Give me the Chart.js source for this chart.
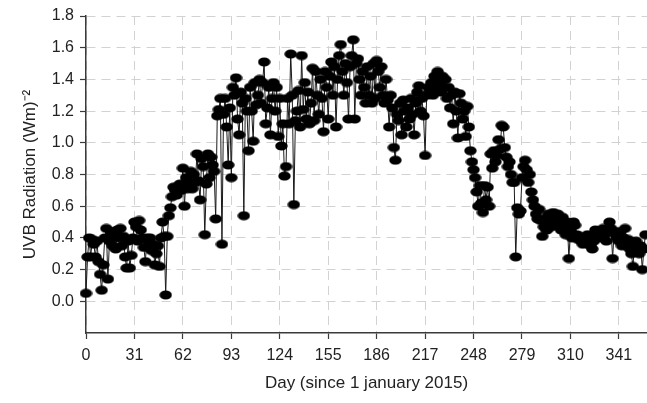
<!DOCTYPE html>
<html>
<head>
<meta charset="utf-8">
<script src="https://cdn.jsdelivr.net/npm/chart.js@4/dist/chart.umd.min.js"></script>
<style>
  html, body { margin: 0; padding: 0; background: #fff; }
  #wrap { width: 647px; height: 403px; }
</style>
</head>
<body>
<div id="wrap"><canvas id="uvbChart" width="647" height="403"></canvas></div>
<script>
"use strict";
// daily UVB values, day 0 .. 358
const uvb = [
    0.05, 0.28, 0.40, 0.28, 0.39, 0.36, 0.28, 0.38, 0.25, 0.17,
    0.07, 0.23, 0.40, 0.46, 0.14, 0.38, 0.44, 0.35, 0.42, 0.33,
    0.45, 0.40, 0.46, 0.35, 0.41, 0.28, 0.21, 0.38, 0.21, 0.29,
    0.40, 0.50, 0.47, 0.38, 0.51, 0.45, 0.40, 0.34, 0.25, 0.40,
    0.38, 0.40, 0.32, 0.36, 0.23, 0.30, 0.35, 0.22, 0.40, 0.50,
    0.41, 0.04, 0.41, 0.54, 0.59, 0.66, 0.72, 0.70, 0.67, 0.72,
    0.74, 0.70, 0.84, 0.60, 0.78, 0.71, 0.75, 0.82, 0.71, 0.80,
    0.75, 0.93, 0.76, 0.64, 0.90, 0.85, 0.42, 0.74, 0.93, 0.78,
    0.91, 0.86, 0.82, 0.52, 1.17, 1.21, 1.28, 0.36, 1.18, 1.28,
    1.10, 0.86, 1.22, 0.78, 1.35, 1.30, 1.41, 1.15, 1.05, 1.32,
    1.25, 0.54, 1.28, 1.20, 0.95, 1.35, 1.20, 1.01, 1.38, 1.24,
    1.30, 1.40, 1.25, 1.38, 1.51, 1.12, 1.22, 1.35, 1.05, 1.28,
    1.38, 1.20, 1.35, 1.04, 1.28, 0.98, 1.12, 0.79, 0.85, 1.28,
    1.12, 1.56, 1.30, 0.61, 1.14, 1.20, 1.33, 1.10, 1.55, 1.21,
    1.38, 1.15, 1.32, 1.12, 1.25, 1.47, 1.14, 1.45, 1.30, 1.18,
    1.40, 1.28, 1.07, 1.45, 1.35, 1.15, 1.42, 1.51, 1.30, 1.48,
    1.10, 1.40, 1.55, 1.62, 1.45, 1.30, 1.50, 1.38, 1.15, 1.48,
    1.55, 1.65, 1.15, 1.50, 1.53, 1.40, 1.30, 1.45, 1.35, 1.25,
    1.48, 1.30, 1.42, 1.25, 1.50, 1.28, 1.52, 1.45, 1.35, 1.48,
    1.30, 1.25, 1.40, 1.27, 1.10, 1.30, 1.22, 0.97, 0.89, 1.18,
    1.14, 1.25, 1.05, 1.27, 1.20, 1.10, 1.22, 1.15, 1.28, 1.18,
    1.05, 1.25, 1.32, 1.36, 1.20, 1.28, 1.17, 0.92, 1.30, 1.35,
    1.32, 1.38, 1.30, 1.42, 1.35, 1.45, 1.38, 1.32, 1.42, 1.35,
    1.40, 1.28, 1.35, 1.22, 1.30, 1.12, 1.32, 1.20, 1.03, 1.31,
    1.25, 1.15, 1.20, 1.04, 1.23, 1.10, 0.95, 0.88, 0.83, 0.78,
    0.69, 0.60, 0.73, 0.62, 0.56, 0.73, 0.64, 0.72, 0.60, 0.93,
    0.84, 0.95, 0.88, 0.92, 1.02, 0.96, 1.11, 1.10, 0.97, 0.91,
    0.85, 0.88, 0.80, 0.75, 0.75, 0.28, 0.59, 0.55, 0.57, 0.78,
    0.85, 0.89, 0.83, 0.75, 0.80, 0.69, 0.64, 0.60, 0.55, 0.52,
    0.58, 0.51, 0.41, 0.47, 0.52, 0.45, 0.55, 0.50, 0.47, 0.56,
    0.52, 0.48, 0.55, 0.50, 0.45, 0.53, 0.48, 0.42, 0.50, 0.27,
    0.45, 0.40, 0.50, 0.48, 0.42, 0.39, 0.41, 0.38, 0.36, 0.40,
    0.38, 0.42, 0.36, 0.35, 0.33, 0.38, 0.45, 0.40, 0.42, 0.44,
    0.40, 0.46, 0.42, 0.38, 0.45, 0.50, 0.46, 0.27, 0.44, 0.42,
    0.40, 0.38, 0.44, 0.35, 0.40, 0.46, 0.38, 0.39, 0.33, 0.30,
    0.22, 0.35, 0.38, 0.32, 0.30, 0.35, 0.20, 0.33, 0.42
];
const dayTicks = [0, 31, 62, 93, 124, 155, 186, 217, 248, 279, 310, 341];
const radTicks = [0.0, 0.2, 0.4, 0.6, 0.8, 1.0, 1.2, 1.4, 1.6, 1.8];

// black ellipse marker, a bit wider than tall like the original
function makeMarker() {
    const c = document.createElement('canvas');
    c.width = 13;
    c.height = 10;
    const g = c.getContext('2d');
    g.fillStyle = '#000';
    g.beginPath();
    g.ellipse(6.5, 5, 6.2, 4.6, 0, 0, Math.PI * 2);
    g.fill();
    return c;
}

const tickFont = { family: "'Liberation Sans', Arial, sans-serif", size: 16 };
const titleFont = { family: "'Liberation Sans', Arial, sans-serif", size: 17 };
const gridColor = '#d2d2d2';
const axisColor = '#3a3a3a';

document.addEventListener('DOMContentLoaded', () => {
    const context = document.getElementById('uvbChart');
    const points = uvb.map((v, i) => ({ x: i, y: v }));
    new Chart(context, {
        type: 'line',
        data: {
            datasets: [{
                label: 'UVB',
                data: points,
                borderColor: '#1a1a1a',
                borderWidth: 1,
                pointStyle: makeMarker(),
                pointRadius: 5,
                tension: 0,
                clip: false,
            }],
        },
        options: {
            responsive: false,
            animation: false,
            layout: { autoPadding: false, padding: { top: 16, right: 0, left: 0, bottom: 0 } },
            plugins: {
                legend: { display: false },
                tooltip: { enabled: false },
            },
            scales: {
                x: {
                    type: 'linear',
                    min: 0,
                    max: 359,
                    afterBuildTicks: (scale) => {
                        scale.ticks = dayTicks.map(v => ({ value: v }));
                    },
                    afterFit: (scale) => {
                        scale.height = 70;
                    },
                    ticks: {
                        color: '#222',
                        font: tickFont,
                        padding: 7,
                        maxRotation: 0,
                        callback: (v) => String(v),
                    },
                    grid: {
                        color: gridColor,
                        lineWidth: 1,
                        tickLength: 6,
                        tickColor: axisColor,
                        tickWidth: 1.2,
                        tickBorderDash: [],
                    },
                    border: { color: axisColor, width: 1.5, dash: [9, 6] },
                    title: {
                        display: true,
                        text: 'Day (since 1 january 2015)',
                        color: '#222',
                        font: titleFont,
                        padding: { top: 0, bottom: 9 },
                    },
                },
                y: {
                    min: -0.2,
                    max: 1.8,
                    afterBuildTicks: (scale) => {
                        scale.ticks = radTicks.map(v => ({ value: v }));
                    },
                    afterFit: (scale) => {
                        scale.width = 86;
                    },
                    ticks: {
                        color: '#222',
                        font: tickFont,
                        padding: 6,
                        callback: (v) => Number(v).toFixed(1),
                    },
                    grid: {
                        color: gridColor,
                        lineWidth: 1,
                        tickLength: 6,
                        tickColor: axisColor,
                        tickWidth: 1.2,
                        tickBorderDash: [],
                    },
                    border: { color: axisColor, width: 1.5, dash: [9, 6] },
                    title: {
                        display: true,
                        text: 'UVB Radiation (Wm)\u207B\u00B2',
                        color: '#222',
                        font: titleFont,
                        padding: { top: 20, bottom: 0 },
                    },
                },
            },
        },
    });
});
</script>
</body>
</html>
